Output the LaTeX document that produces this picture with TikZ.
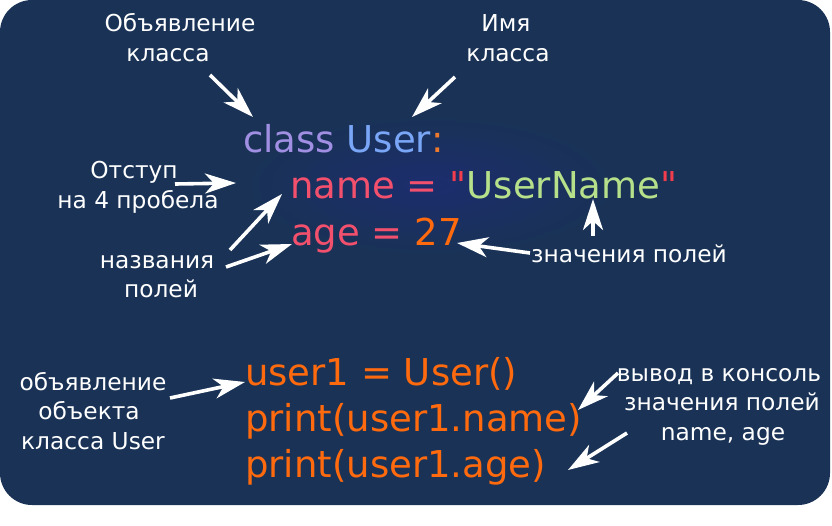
\documentclass[tikz,border=0pt]{standalone}
\usepackage{fontspec}
\setmainfont{DejaVu Sans}
\newfontfamily\codefont{DejaVu Sans}
\usetikzlibrary{arrows.meta}
\definecolor{bg}{HTML}{193255}
\definecolor{glow}{HTML}{1C2D6E}
\definecolor{classc}{HTML}{A08FE3}
\definecolor{userc}{HTML}{7AA6F7}
\definecolor{colonc}{HTML}{F07A2C}
\definecolor{fieldc}{HTML}{F2506D}
\definecolor{quotec}{HTML}{F23D4E}
\definecolor{strc}{HTML}{B7E08A}
\definecolor{numc}{HTML}{FF6A0E}
\tikzset{
  lbl/.style={text=white, inner sep=0pt, anchor=base, font=\fontsize{23.3}{28}\selectfont},
  code/.style={inner sep=0pt, anchor=base west, font=\codefont\fontsize{37}{44}\selectfont},
  arr/.style={draw=white, line width=3.6pt, -{Stealth[length=31pt,width=20pt,inset=9pt]}}
}
\begin{document}
\begin{tikzpicture}[x=1pt,y=-1pt]
\useasboundingbox (0,0) rectangle (832,525);
\fill[white] (0,0) rectangle (832,525);
\fill[bg, rounded corners=32pt] (0,0) rectangle (830,505);
\shade[inner color=glow, outer color=bg] (430,185) ellipse [x radius=190, y radius=72];

% code
\node[code] (l1) at (243,152) {\color{classc}class \color{userc}User\color{colonc}:};
\node[code] (l2) at (290,198) {\color{fieldc}name = \color{quotec}"\color{strc}UserName\color{quotec}"};
\node[code] (l3) at (291,245) {\color{fieldc}age = \color{numc}27};
\node[code, text=numc] (l4) at (245,385) {user1 = User()};
\node[code, text=numc] (l5) at (245,431) {print(user1.name)};
\node[code, text=numc] (l6) at (245,477) {print(user1.age)};

% labels
\node[lbl] (d1) at (180,31.5) {Объявление};
\node[lbl] (d2) at (168,61) {класса};
\node[lbl] (n1) at (506,31.5) {Имя};
\node[lbl] (n2) at (508,61) {класса};
\node[lbl] (i1) at (134,178) {Отступ};
\node[lbl] (i2) at (138,208) {на 4 пробела};
\node[lbl] (f1) at (157,268) {названия};
\node[lbl] (f2) at (161,297) {полей};
\node[lbl] (v1) at (629,262) {значения полей};
\node[lbl] (o1) at (93,390) {объявление};
\node[lbl] (o2) at (89,419) {объекта};
\node[lbl] (o3) at (93,449) {класса User};
\node[lbl] (c1) at (719,381) {вывод в консоль};
\node[lbl] (c2) at (722,410) {значения полей};
\node[lbl] (c3) at (723,440) {name, age};

% arrow end points
\coordinate (a1s) at (210,75);  \coordinate (a1e) at (253,117);
\coordinate (a2s) at (455,77);  \coordinate (a2e) at (412,117);
\coordinate (a3s) at (175,184); \coordinate (a3e) at (236,183);
\coordinate (a4s) at (230,250); \coordinate (a4e) at (282,194);
\coordinate (a5s) at (226,267); \coordinate (a5e) at (292,244);
\coordinate (a6s) at (530,253); \coordinate (a6e) at (457,243);
\coordinate (a7s) at (593,236); \coordinate (a7e) at (593,199);
\coordinate (a8s) at (170,398); \coordinate (a8e) at (245,382);
\coordinate (a9s) at (618,373); \coordinate (a9e) at (578,410);
\coordinate (a10s) at (627,433); \coordinate (a10e) at (568,470);

\draw[arr] (a1s) -- (a1e);
\draw[arr] (a2s) -- (a2e);
\draw[arr] (a3s) -- (a3e);
\draw[arr] (a4s) -- (a4e);
\draw[arr] (a5s) -- (a5e);
\draw[arr] (a6s) -- (a6e);
\draw[arr] (a7s) -- (a7e);
\draw[arr] (a8s) -- (a8e);
\draw[arr] (a9s) -- (a9e);
\draw[arr] (a10s) -- (a10e);
\end{tikzpicture}
\end{document}
